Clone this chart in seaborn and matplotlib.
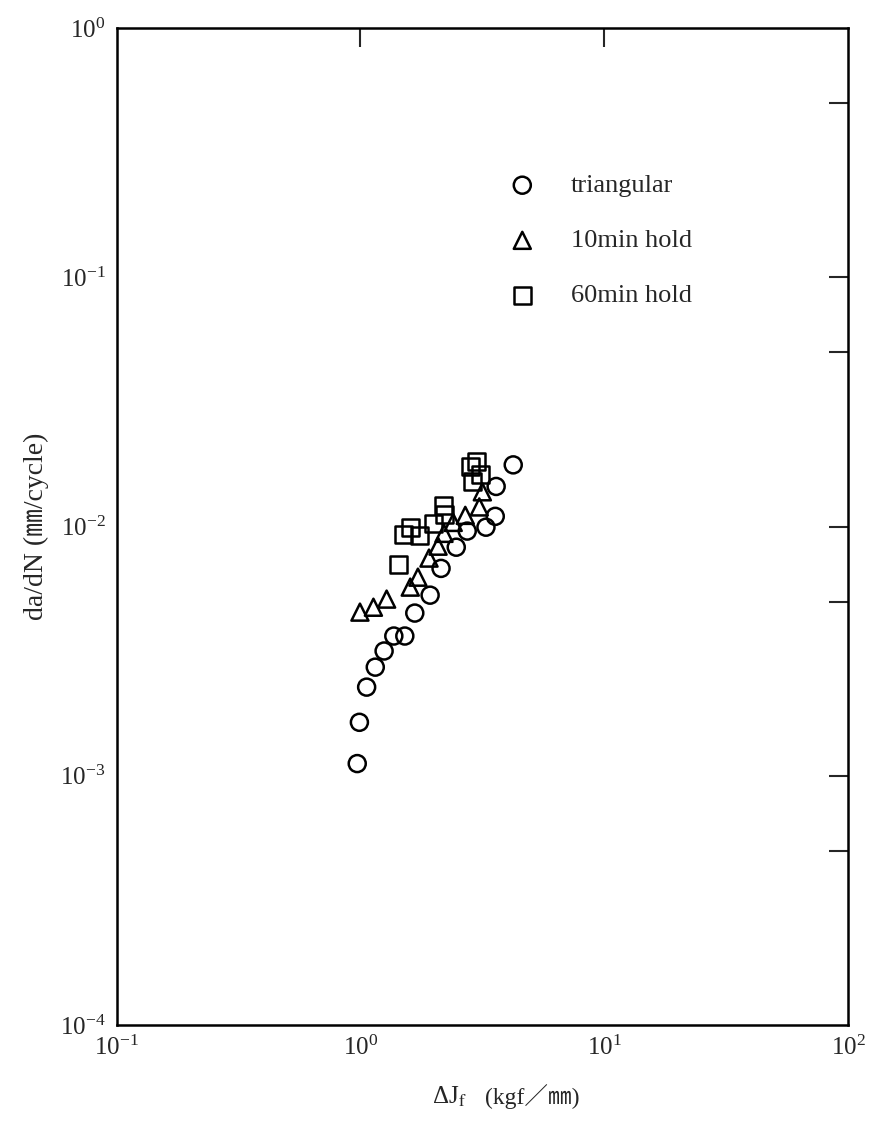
import numpy as np
import pandas as pd
import matplotlib
matplotlib.use("Agg")
import matplotlib.pyplot as plt
import matplotlib.ticker as mticker
import seaborn as sns

# data
tri_dJ = [0.97, 0.99, 1.06, 1.15, 1.25, 1.37, 1.52, 1.67, 1.93, 2.14, 2.47, 2.74, 3.27, 3.57, 3.60, 4.23]
tri_dadN = [1.12e-3, 1.64e-3, 2.27e-3, 2.73e-3, 3.17e-3, 3.64e-3, 3.64e-3, 4.5e-3, 5.31e-3, 6.8e-3,
            8.27e-3, 9.6e-3, 9.95e-3, 1.1e-2, 1.45e-2, 1.77e-2]

h10_dJ = [0.995, 1.13, 1.28, 1.60, 1.72, 1.91, 2.08, 2.20, 2.40, 2.69, 3.07, 3.16]
h10_dadN = [4.54e-3, 4.75e-3, 5.12e-3, 5.72e-3, 6.27e-3, 7.48e-3, 8.35e-3, 9.4e-3, 1.04e-2, 1.11e-2,
            1.2e-2, 1.38e-2]

h60_dJ = [1.43, 1.50, 1.60, 1.75, 1.99, 2.18, 2.22, 2.82, 3.00, 3.10, 2.87]
h60_dadN = [7.07e-3, 9.33e-3, 9.95e-3, 9.24e-3, 1.03e-2, 1.22e-2, 1.12e-2, 1.75e-2, 1.83e-2,
            1.62e-2, 1.52e-2]

series = ["triangular", "10min hold", "60min hold"]
markers = ["o", "^", "s"]

df = pd.concat([
    pd.DataFrame({"dJ": tri_dJ, "dadN": tri_dadN, "cond": series[0]}),
    pd.DataFrame({"dJ": h10_dJ, "dadN": h10_dadN, "cond": series[1]}),
    pd.DataFrame({"dJ": h60_dJ, "dadN": h60_dadN, "cond": series[2]}),
])

sns.set_style("white")
plt.rcParams["font.family"] = ["Liberation Serif", "Noto Sans CJK JP", "DejaVu Sans"]
plt.rcParams["mathtext.fontset"] = "stix"

fig = plt.figure(figsize=(8.7, 11.32), dpi=100)
ax = fig.add_axes([0.134, 0.0945, 0.841, 0.8805])

for name, m in zip(series, markers):
    sub = df[df["cond"] == name]
    sns.scatterplot(data=sub, x="dJ", y="dadN", marker=m, s=150, facecolors="none",
                    edgecolors="black", linewidth=1.8, label=name, ax=ax, zorder=3)

ax.set_xscale("log")
ax.set_yscale("log")
ax.set_xlim(0.1, 100)
ax.set_ylim(1e-4, 1)

ax.xaxis.set_major_locator(mticker.LogLocator(base=10, numticks=10))
ax.xaxis.set_minor_locator(mticker.NullLocator())
ax.yaxis.set_major_locator(mticker.LogLocator(base=10, numticks=10))
ax.yaxis.set_minor_locator(mticker.LogLocator(base=10, subs=[5.0], numticks=10))
ax.yaxis.set_minor_formatter(mticker.NullFormatter())

ax.tick_params(axis="both", which="both", direction="in", top=True, right=True,
               length=14, width=1.5, labelsize=18, pad=8)

fig.canvas.draw()
# no tick marks at the corners
for axis, lo, hi in [(ax.xaxis, 0.1, 100), (ax.yaxis, 1e-4, 1)]:
    for t in axis.get_major_ticks():
        loc = t.get_loc()
        if loc <= lo * 1.01 or loc >= hi * 0.99:
            t.tick1line.set_visible(False)
            t.tick2line.set_visible(False)

for sp in ax.spines.values():
    sp.set_linewidth(1.8)
    sp.set_color("black")

ax.set_xlabel("")
fig.text(0.497, 0.031, r"ΔJ$_{\mathrm{f}}$", fontsize=18, ha="left", va="center")
fig.text(0.557, 0.031, "(kgf／㎜)", fontsize=17, ha="left", va="center")
ax.set_ylabel("da/dN (㎜/cycle)", fontsize=20, labelpad=8)

leg = ax.legend(loc="upper left", bbox_to_anchor=(0.495, 0.878), frameon=False,
                fontsize=19, labelspacing=1.2, handletextpad=1.1, markerscale=1.0,
                handlelength=1.5)
for h in leg.legend_handles:
    h.set_facecolor("none")
    h.set_edgecolor("black")

fig.savefig("out.png", dpi=100)
